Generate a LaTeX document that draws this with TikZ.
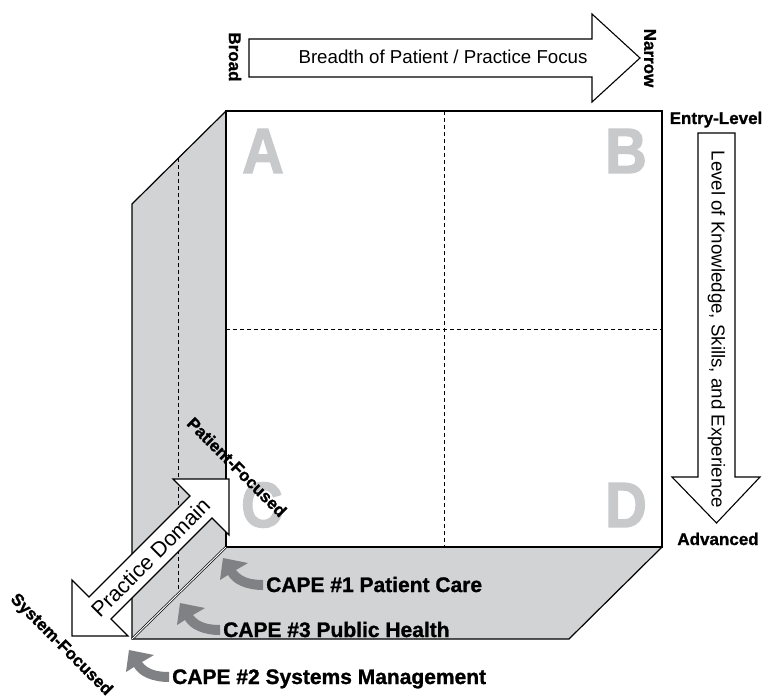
\documentclass[tikz,border=0pt]{standalone}
\usepackage{fontspec}
\setmainfont{Liberation Sans}
\newfontfamily\heavyfont{Liberation Sans Bold}[FakeBold=1.2]
\newfontfamily\letterfont{Liberation Sans Bold}[FakeBold=2,FakeStretch=0.9]
\usetikzlibrary{calc}
\definecolor{panel}{RGB}{209,211,212}
\definecolor{lettergray}{RGB}{200,201,203}
\definecolor{capegray}{RGB}{128,129,132}
\begin{document}
\begin{tikzpicture}[x=1pt,y=-1pt,
  edge/.style={draw=black,line width=1.2pt,line join=miter},
  divider/.style={draw=black,line width=0.8pt,dash pattern=on 4pt off 3pt},
  bigarrow/.style={draw=black,fill=white,line width=1.1pt,line join=miter},
  letter/.style={text=lettergray,font=\fontsize{64}{64}\letterfont,inner sep=0pt,anchor=base},
  axislabel/.style={font=\fontsize{17}{17}\heavyfont,inner sep=0pt},
  arrowtext/.style={font=\fontsize{18.7}{18.7}\selectfont,inner sep=0pt},
  capelabel/.style={font=\fontsize{21}{21}\heavyfont,inner sep=0pt,anchor=base west},
  capearrow/.pic={\fill[capegray] (-43,-27) -- (-18,-22) -- (-30,-15)
      .. controls (-24,-7) and (-14,-5) .. (-3,-5) -- (-3,5)
      .. controls (-20,5) and (-33,-1) .. (-38,-10) -- (-46,-5) -- cycle;}
]
\useasboundingbox (0,0) rectangle (762,698);
% cube corners
\coordinate (ftl) at (226,111);
\coordinate (ftr) at (662,111);
\coordinate (fbr) at (662,547);
\coordinate (fbl) at (226,547);
\coordinate (btl) at (132,204);
\coordinate (bbl) at (132,639);
\coordinate (bbr) at (569,639);
% shaded panels
\fill[panel] (ftl) -- (btl) -- (bbl) -- (fbl) -- cycle;
\fill[panel] (fbl) -- (fbr) -- (bbr) -- (bbl) -- cycle;
% dashed dividers
\draw[divider] (444,111) -- (444,547);
\draw[divider] (226,329) -- (662,329);
\draw[divider] (178,158) -- (178,595);
% edges
\draw[edge] (ftl) rectangle (fbr);
\draw[edge] (ftl) -- (btl) -- (bbl) -- (bbr) -- (fbr);
\draw[line width=0.7pt,double=white,double distance=1pt] (fbl) -- (bbl);
\draw[line width=1.8pt] (ftl) -- (fbl);
% quadrant letters
\node[letter] (qa) at (263,173) {A};
\node[letter] (qb) at (626,173) {B};
\node[letter] (qc) at (262,527) {C};
\node[letter] (qd) at (626,527) {D};
% top arrow
\draw[bigarrow] (249,39) -- (592,39) -- (592,14) -- (640,58) -- (592,102) -- (592,77) -- (249,77) -- cycle;
\node[arrowtext,anchor=base] (breadth) at (443,64) {Breadth of Patient / Practice Focus};
\node[axislabel,rotate=-90] (broad) at (235,57) {Broad};
\node[axislabel,rotate=-90] (narrow) at (650,58) {Narrow};
% right arrow
\draw[bigarrow] (698,133) -- (735,133) -- (735,477) -- (760,477) -- (716.5,523) -- (672,477) -- (698,477) -- cycle;
\node[arrowtext,rotate=-90] (level) at (716.5,329.5) {Level of Knowledge, Skills, and Experience};
\node[axislabel,anchor=base] (entry) at (716,124) {Entry-Level};
\node[axislabel,anchor=base] (adv) at (718,545) {Advanced};
% practice domain double arrow
\draw[bigarrow] (72,636) -- (72,580) -- (89,597) -- (190,496) -- (173,479) -- (229,479)
  -- (229,535) -- (212,518) -- (111,619) -- (128,636) -- cycle;
\node[font=\fontsize{21.5}{21.5}\selectfont,inner sep=0pt,rotate=45] (domain) at (150.5,557.5) {Practice Domain};
\node[axislabel,rotate=-45] (patient) at (237,467) {Patient-Focused};
\node[axislabel,rotate=-45] (system) at (61,645) {System-Focused};
% CAPE labels
\node[capelabel] (c1) at (266,592) {CAPE \#1 Patient Care};
\node[capelabel] (c3) at (223,637) {CAPE \#3 Public Health};
\node[capelabel] (c2) at (172,684) {CAPE \#2 Systems Management};
\path ([yshift=7pt]c1.base west) pic {capearrow};
\path ([yshift=7pt]c3.base west) pic {capearrow};
\path ([yshift=7pt]c2.base west) pic {capearrow};
\end{tikzpicture}
\end{document}
